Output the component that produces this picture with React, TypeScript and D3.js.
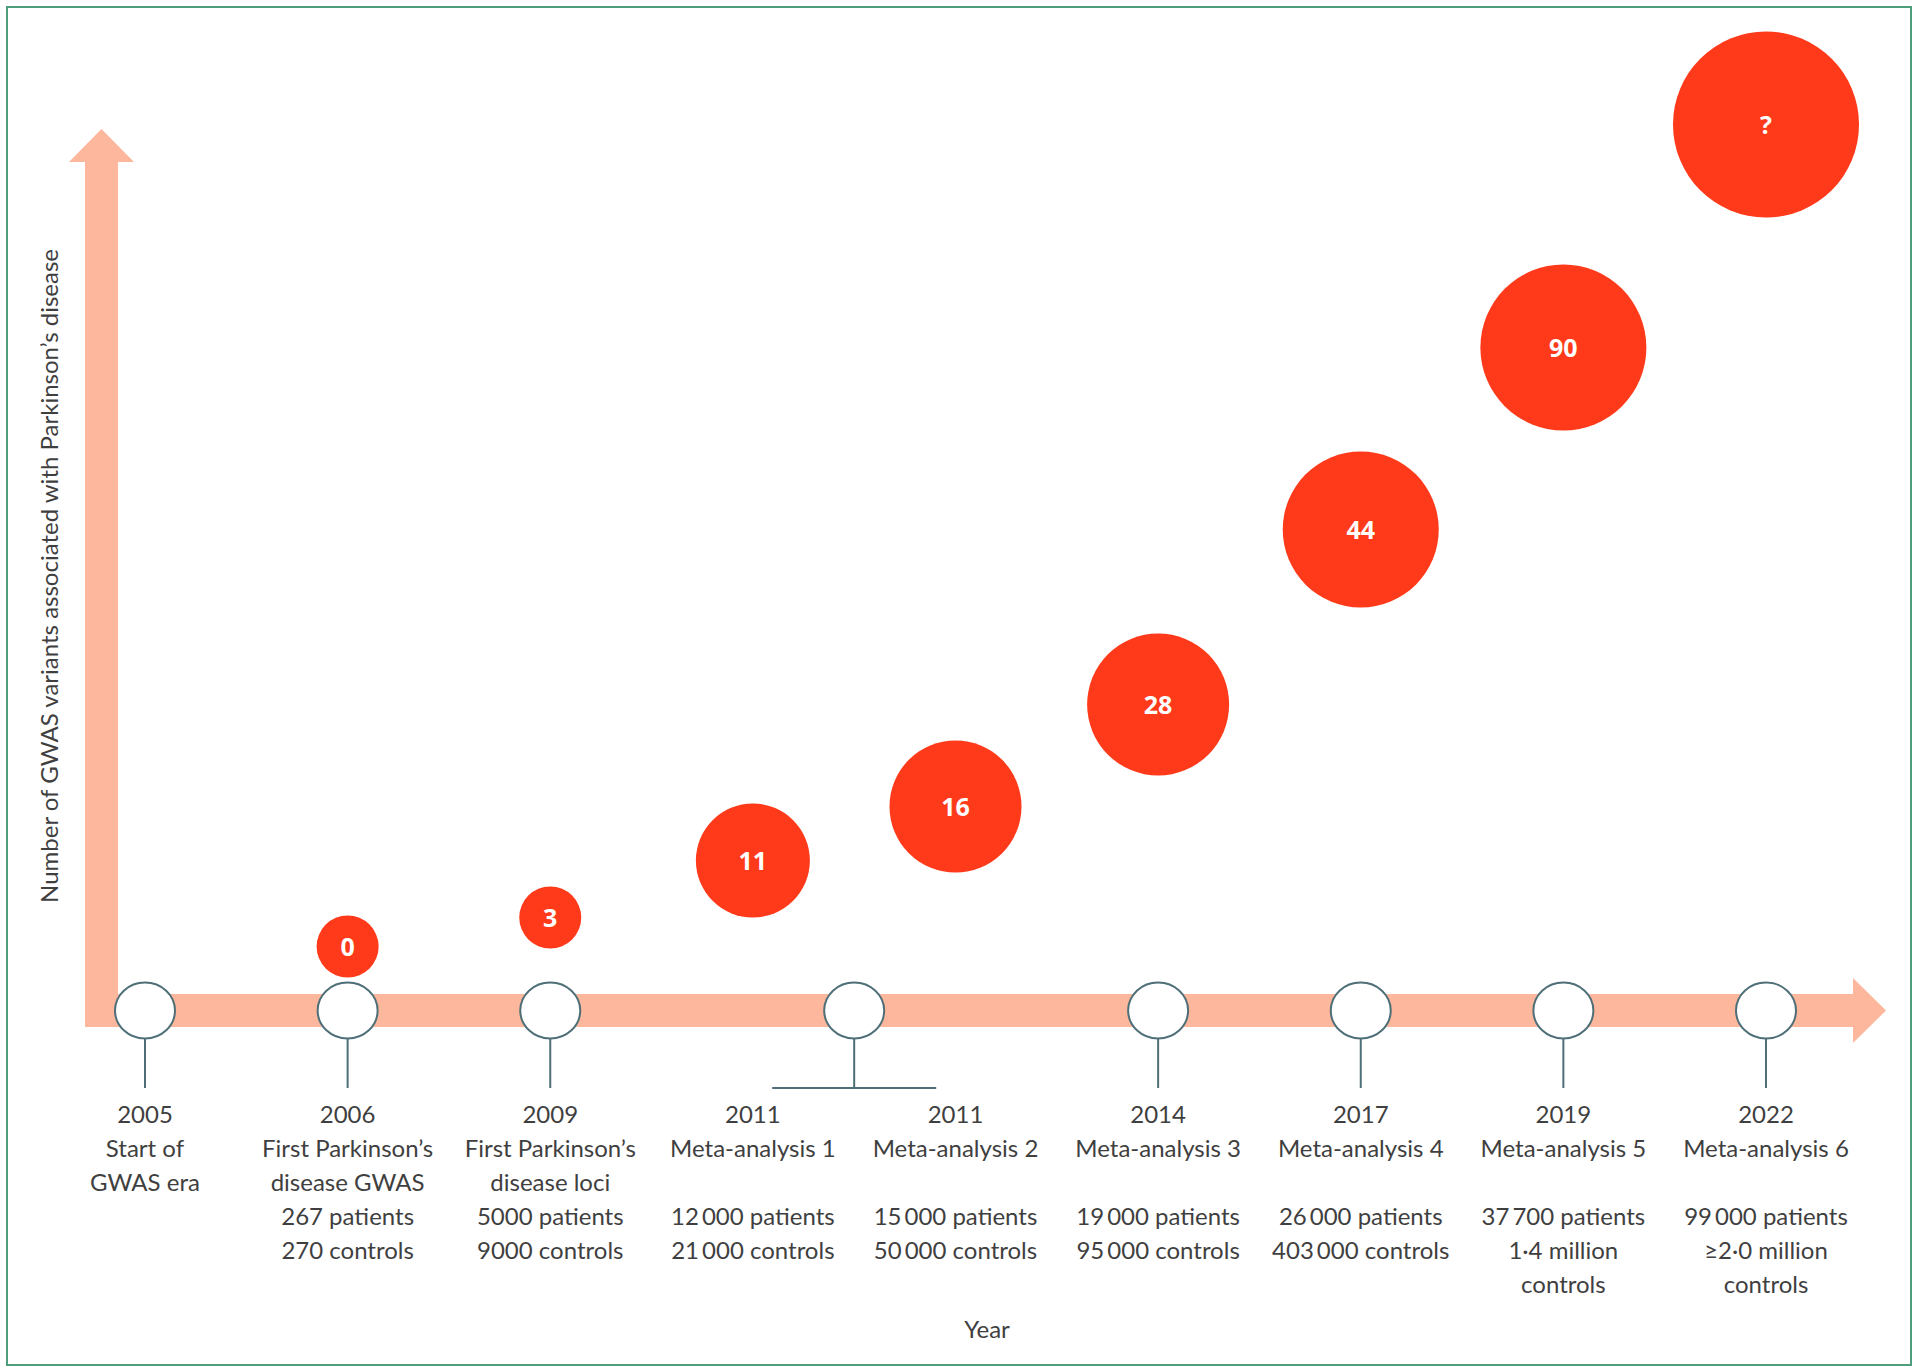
import React from "react";
import * as d3 from "d3";

// ---- data ----
const eventYears = ["2005", "2006", "2009", "2011", "2011", "2014", "2017", "2019", "2022"];
const eventTitles = [
  ["Start of", "GWAS era"],
  ["First Parkinson’s", "disease GWAS"],
  ["First Parkinson’s", "disease loci"],
  ["Meta-analysis 1", ""],
  ["Meta-analysis 2", ""],
  ["Meta-analysis 3", ""],
  ["Meta-analysis 4", ""],
  ["Meta-analysis 5", ""],
  ["Meta-analysis 6", ""],
];
const eventPatients = [
  "",
  "267 patients",
  "5000 patients",
  "12\u2009000 patients",
  "15\u2009000 patients",
  "19\u2009000 patients",
  "26\u2009000 patients",
  "37\u2009700 patients",
  "99\u2009000 patients",
];
const eventControls = [
  [],
  ["270 controls"],
  ["9000 controls"],
  ["21\u2009000 controls"],
  ["50\u2009000 controls"],
  ["95\u2009000 controls"],
  ["403\u2009000 controls"],
  ["1·4 million", "controls"],
  ["≥2·0 million", "controls"],
];
// number of GWAS variants found (null = no study; "?" = unknown future)
const variantLabels = [null, "0", "3", "11", "16", "28", "44", "90", "?"];

// ---- layout (visual encoding of the bubble sequence) ----
const bubbleRank = [1, 2, 3, 4, 5, 6, 7, 8];
const bubbleHeightLayout = [64, 93, 150, 204, 306, 481, 663, 886];
const bubbleRadiusLayout = [31, 31, 57, 66, 71, 78, 83, 93];

const W = 1920;
const H = 1372;
const axisY = 1010.5;
const arrowColor = "#FDB79C";
const bubbleColor = "#FF3A1A";
const nodeStroke = "#4E6F77";
const textColor = "#3F3F3F";
const font = "Lato, 'Open Sans', sans-serif";

export default function App() {
  const x = d3.scaleLinear().domain([0, eventYears.length - 1]).range([145, 1766]);
  const hScale = d3.scaleLinear().domain(bubbleRank).range(bubbleHeightLayout);
  const rScale = d3.scaleLinear().domain(bubbleRank).range(bubbleRadiusLayout);

  // timeline nodes: one per distinct year, centred on its events
  const nodes = Array.from(
    d3.group(eventYears.map((y, i) => ({ y, i })), (d) => d.y),
    ([year, evs]) => ({ year, cx: d3.mean(evs, (e) => x(e.i)) as number, count: evs.length })
  );

  const shaftL = 85, shaftR = 118, barT = 994, barB = 1027;
  const vHeadBase = 162, vTip = 129;
  const hHeadBase = 1853, hTip = 1886;

  const lineGap = 34;
  const baseY = 1123;

  return (
    <svg width={W} height={H} style={{ position: "absolute", left: 0, top: 0, background: "#fff" }}>
      <rect x={7} y={7} width={1904} height={1358} fill="#fff" stroke="#4E9E7E" strokeWidth={2} />

      {/* arrows */}
      <rect x={shaftL} y={vHeadBase} width={shaftR - shaftL} height={barB - vHeadBase} fill={arrowColor} />
      <polygon
        points={`${(shaftL + shaftR) / 2},${vTip} ${shaftL - 16},${vHeadBase} ${shaftR + 16},${vHeadBase}`}
        fill={arrowColor}
      />
      <rect x={shaftL} y={barT} width={hHeadBase - shaftL} height={barB - barT} fill={arrowColor} />
      <polygon
        points={`${hTip},${axisY} ${hHeadBase},${barT - 16} ${hHeadBase},${barB + 16}`}
        fill={arrowColor}
      />

      {/* stems and nodes */}
      {nodes.map((n) => (
        <g key={n.year}>
          <line x1={n.cx} x2={n.cx} y1={axisY + 28} y2={1088} stroke={nodeStroke} strokeWidth={2} />
          {n.count > 1 && (
            <line x1={n.cx - 82} x2={n.cx + 82} y1={1088} y2={1088} stroke={nodeStroke} strokeWidth={2} />
          )}
          <ellipse cx={n.cx} cy={axisY} rx={30} ry={28} fill="#fff" stroke={nodeStroke} strokeWidth={2} />
        </g>
      ))}

      {/* bubbles */}
      {variantLabels.map((v, i) =>
        v === null ? null : (
          <g key={"b" + i}>
            <circle cx={x(i)} cy={axisY - hScale(i)} r={rScale(i)} fill={bubbleColor} />
            <text
              x={x(i)}
              y={axisY - hScale(i)}
              dy="0.36em"
              textAnchor="middle"
              fill="#fff"
              fontFamily="'Open Sans', sans-serif"
              fontWeight={700}
              fontSize={25}
            >
              {v}
            </text>
          </g>
        )
      )}

      {/* event labels */}
      {eventYears.map((yr, i) => {
        const lines = [yr, eventTitles[i][0], eventTitles[i][1], eventPatients[i], ...eventControls[i]];
        return (
          <text key={"t" + i} textAnchor="middle" fill={textColor} fontFamily={font} fontSize={24}>
            {lines.map((l, k) => (
              <tspan key={k} x={x(i)} y={baseY + k * lineGap}>
                {l}
              </tspan>
            ))}
          </text>
        );
      })}

      {/* axis titles */}
      <text
        transform={`translate(50,576) rotate(-90)`}
        textAnchor="middle"
        dy="0.35em"
        fill={textColor}
        fontFamily={font}
        fontSize={24}
      >
        Number of GWAS variants associated with Parkinson’s disease
      </text>
      <text x={987} y={1338} textAnchor="middle" fill={textColor} fontFamily={font} fontSize={24}>
        Year
      </text>
    </svg>
  );
}
